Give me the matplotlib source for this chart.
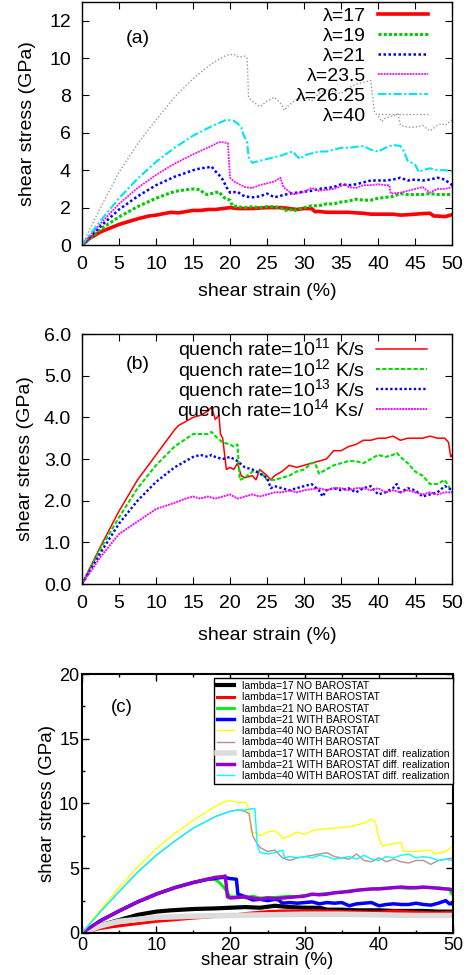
import numpy as np
import matplotlib
matplotlib.use("Agg")
import matplotlib.pyplot as plt
from matplotlib.ticker import MultipleLocator

plt.rcParams['font.family'] = ['Liberation Sans', 'DejaVu Sans']
plt.rcParams['mathtext.fontset'] = 'custom'
plt.rcParams['mathtext.rm'] = 'Liberation Sans'
plt.rcParams['mathtext.default'] = 'regular'

# ---- panel (a): (strain %, stress GPa) for each lambda ----
a_lam17 = [(0, 0), (1, 0.35), (2.5, 0.7), (5, 1.1), (7.5, 1.4), (9, 1.55), (10, 1.6), (12, 1.75), (13, 1.72),
           (15, 1.85), (16, 1.85), (17, 1.9), (18, 1.9), (19, 1.95), (20, 2.0), (21, 1.95), (22, 1.95), (23, 1.95),
           (25, 2.0), (26, 2.0), (27, 2.0), (28, 1.95), (29, 1.9), (30, 1.95), (31, 1.95), (31.5, 1.78), (32, 1.8),
           (33, 1.75), (34, 1.75), (35, 1.75), (36, 1.75), (37, 1.72), (38, 1.7), (39, 1.65), (40, 1.65), (41, 1.65),
           (42, 1.65), (43, 1.6), (44, 1.62), (45, 1.65), (46, 1.68), (47, 1.7), (47.5, 1.55), (48, 1.55),
           (49, 1.52), (50, 1.62)]
a_lam19 = [(0, 0), (2.5, 0.85), (5, 1.5), (7.5, 2.05), (10, 2.5), (12, 2.8), (13, 2.9), (14, 2.95), (15, 3.0),
           (16, 2.95), (16.5, 2.75), (17, 2.7), (18, 2.8), (18.5, 2.85), (19, 2.6), (19.5, 2.45), (20, 2.4),
           (20.3, 2.1), (21, 2.05), (22, 2.0), (23, 2.05), (24, 2.0), (25, 2.05), (26, 2.05), (27, 1.95),
           (27.5, 1.85), (28, 1.95), (28.5, 1.8), (29, 1.9), (30, 2.0), (31, 2.1), (32, 2.1), (33, 2.2), (34, 2.2),
           (35, 2.3), (36, 2.35), (37, 2.45), (38, 2.4), (39, 2.4), (40, 2.5), (41, 2.55), (42, 2.6), (43, 2.75),
           (44, 2.7), (45, 2.7), (46, 2.7), (47, 2.75), (48, 2.7), (49, 2.7), (50, 2.7)]
a_lam21 = [(0, 0), (2.5, 1.0), (5, 1.9), (7.5, 2.6), (10, 3.2), (12.5, 3.65), (15, 4.0), (16, 4.1), (17, 4.15),
           (17.5, 4.2), (18, 3.95), (18.5, 3.75), (19, 3.5), (19.5, 3.1), (20, 2.8), (21, 2.85), (21.5, 2.7),
           (22, 2.6), (23, 2.55), (24, 2.6), (25, 2.75), (26, 2.55), (27, 2.65), (28, 2.75), (29, 2.8), (30, 2.85),
           (31, 2.9), (32, 3.0), (33, 3.05), (34, 3.1), (35, 3.25), (36, 3.2), (37, 3.25), (38, 3.35), (39, 3.45),
           (40, 3.45), (41, 3.45), (42, 3.5), (43, 3.6), (44, 3.45), (45, 3.5), (46, 3.45), (47, 3.5), (48, 3.6),
           (49, 3.5), (49.5, 3.35), (50, 3.2)]
a_lam235 = [(0, 0), (2.5, 1.15), (5, 2.2), (7.5, 3.05), (10, 3.75), (12.5, 4.35), (15, 4.85), (17.5, 5.3),
            (18.5, 5.5), (19, 5.5), (19.7, 5.45), (20, 3.6), (20.5, 3.4), (21, 3.3), (22, 3.1), (23, 3.05),
            (24, 3.2), (25, 3.3), (26, 3.4), (26.8, 3.6), (27.2, 3.1), (28, 2.85), (28.5, 2.7), (29, 2.75),
            (30, 2.85), (31, 3.05), (32, 2.9), (33, 2.95), (34, 3.0), (35, 3.15), (35.5, 3.25), (36, 3.1),
            (37, 3.05), (38, 3.2), (39, 3.2), (40, 3.25), (41, 3.2), (41.5, 3.2), (41.7, 2.75), (43, 2.8),
            (44, 2.9), (45, 3.0), (46, 3.1), (47, 2.8), (48, 3.0), (49, 3.0), (50, 3.1)]
a_lam2625 = [(0, 0), (2.5, 1.3), (5, 2.5), (7.5, 3.55), (10, 4.45), (12.5, 5.2), (15, 5.85), (17.5, 6.35),
             (19.5, 6.7), (20.5, 6.65), (21, 6.5), (21.5, 6.3), (21.8, 5.9), (22.3, 5.5), (22.5, 4.7), (23, 4.4),
             (24, 4.5), (25, 4.6), (26, 4.7), (27, 4.8), (28, 4.95), (28.5, 5.0), (29, 4.75), (29.5, 4.6),
             (30, 4.8), (31, 4.9), (32, 5.0), (33, 5.0), (34, 5.1), (35, 5.2), (36, 5.2), (37, 5.25), (38, 5.3),
             (39, 5.1), (40, 5.0), (41, 5.2), (42, 5.35), (43, 5.3), (43.5, 5.0), (44, 4.5), (45, 4.3),
             (45.5, 3.9), (46, 4.0), (47, 4.1), (48, 4.0), (49, 4.0), (50, 3.95)]
a_lam40 = [(0, 0), (2.5, 2.0), (5, 3.9), (7.5, 5.4), (10, 6.7), (12.5, 7.9), (15, 8.9), (17.5, 9.7),
           (19.5, 10.15), (20.5, 10.2), (21.2, 10.05), (22, 10.1), (22.3, 10.0), (22.5, 7.9), (23, 7.7),
           (24, 7.4), (25, 7.7), (26, 7.9), (27, 7.5), (27.3, 7.2), (28, 7.5), (29, 7.8), (30, 7.9), (31, 7.7),
           (32, 8.1), (33, 8.3), (34, 8.2), (35, 8.1), (36, 8.4), (37, 8.6), (38, 8.7), (39, 8.8), (39.5, 7.1),
           (40, 6.9), (40.5, 6.6), (41, 6.8), (42, 6.9), (42.7, 7.0), (43, 6.4), (44, 6.3), (45, 6.3), (46, 6.4),
           (47, 6.1), (48, 6.4), (48.6, 6.5), (49, 6.4), (50, 6.7)]
a_labels = ['λ=17', 'λ=19', 'λ=21', 'λ=23.5', 'λ=26.25', 'λ=40']

# ---- panel (b): quench rates ----
b_q11 = [(0, 0), (2.5, 0.9), (5, 1.75), (7.5, 2.5), (10, 3.1), (12.5, 3.7), (13, 3.8), (15, 4.0), (16, 4.05),
         (17, 4.15), (17.5, 4.25), (18, 3.95), (18.5, 4.05), (18.7, 3.6), (19, 3.5), (19.5, 2.75), (20, 2.8),
         (20.5, 2.75), (21, 2.9), (21.5, 2.6), (22, 2.55), (23, 2.6), (23.5, 2.5), (24, 2.75), (25, 2.6),
         (25.5, 2.5), (26, 2.6), (27, 2.7), (28, 2.85), (29, 2.8), (30, 2.85), (31, 2.9), (32, 2.95), (33, 3.0),
         (34, 3.2), (35, 3.2), (36, 3.3), (37, 3.35), (38, 3.45), (39, 3.45), (40, 3.5), (41, 3.5), (42, 3.55),
         (43, 3.45), (44, 3.5), (45, 3.5), (46, 3.5), (47, 3.55), (48, 3.5), (49, 3.5), (49.5, 3.4),
         (49.8, 3.05), (50, 3.1)]
b_q12 = [(0, 0), (2.5, 0.85), (5, 1.6), (7.5, 2.3), (10, 2.85), (12.5, 3.3), (15, 3.6), (16, 3.6), (17, 3.6),
         (17.5, 3.65), (18, 3.55), (19, 3.4), (20, 3.35), (20.5, 3.3), (21, 3.35), (21.3, 2.5), (22, 2.55),
         (23, 2.7), (24, 2.7), (25, 2.5), (26, 2.5), (27, 2.55), (28, 2.6), (29, 2.7), (30, 2.75), (31, 2.9),
         (31.5, 2.9), (32, 2.65), (33, 2.75), (34, 2.85), (35, 2.9), (36, 2.95), (37, 2.95), (38, 2.9), (39, 3.0),
         (40, 3.1), (41, 3.05), (42, 3.1), (42.5, 3.15), (43, 3.05), (44, 2.9), (45, 2.7), (46, 2.6), (47, 2.4),
         (48, 2.4), (49, 2.5), (50, 2.2)]
b_q13 = [(0, 0), (2.5, 0.75), (5, 1.45), (7.5, 2.0), (10, 2.45), (12.5, 2.8), (15, 3.05), (16, 3.1), (17, 3.05),
         (17.5, 3.1), (18, 3.05), (19, 3.0), (20, 3.05), (21, 2.95), (22, 2.8), (23, 2.75), (24, 2.65), (25, 2.55),
         (25.5, 2.3), (26, 2.35), (27, 2.3), (28, 2.25), (29, 2.3), (30, 2.35), (31, 2.4), (32, 2.25), (32.5, 2.1),
         (33, 2.25), (34, 2.3), (35, 2.25), (36, 2.3), (37, 2.2), (38, 2.3), (39, 2.35), (40, 2.15), (41, 2.2),
         (42, 2.3), (42.5, 2.4), (43, 2.2), (44, 2.3), (45, 2.25), (46, 2.1), (47, 2.15), (48, 2.2), (49, 2.35),
         (50, 2.25)]
b_q14 = [(0, 0), (2.5, 0.65), (5, 1.2), (7.5, 1.5), (10, 1.8), (12.5, 1.95), (14, 2.05), (15, 2.1), (16, 2.05),
         (17, 2.1), (18, 2.05), (19, 2.1), (20, 2.15), (21, 2.05), (22, 2.1), (23, 2.15), (24, 2.1), (25, 2.15),
         (26, 2.2), (27, 2.2), (28, 2.25), (29, 2.2), (30, 2.25), (32, 2.3), (33, 2.25), (34, 2.3), (35, 2.3),
         (36, 2.25), (37, 2.3), (38, 2.3), (39, 2.25), (40, 2.3), (41, 2.2), (42, 2.25), (43, 2.2), (44, 2.25),
         (45, 2.2), (46, 2.15), (47, 2.2), (48, 2.15), (49, 2.2), (50, 2.2)]
b_labels = ['quench rate=10$^{11}$ K/s', 'quench rate=10$^{12}$ K/s',
            'quench rate=10$^{13}$ K/s', 'quench rate=10$^{14}$ Ks/']

# ---- panel (c): barostat comparison ----
c_l17_no = [(0, 0), (2.5, 0.6), (5, 1.0), (7.5, 1.4), (10, 1.65), (12, 1.75), (15, 1.85), (18, 1.9), (20, 1.95),
            (22, 2.0), (24, 1.95), (26, 2.1), (28, 2.0), (30, 1.95), (32, 1.95), (33, 1.8), (35, 1.8), (37, 1.75),
            (40, 1.75), (42, 1.7), (44, 1.7), (46, 1.7), (48, 1.65), (50, 1.65)]
c_l17_with = [(0, 0), (2.5, 0.35), (5, 0.55), (10, 0.9), (15, 1.15), (20, 1.35), (22, 1.5), (25, 1.65),
              (27, 1.7), (30, 1.7), (33, 1.7), (35, 1.65), (40, 1.6), (42, 1.7), (45, 1.6), (48, 1.55), (50, 1.6)]
c_l21_no = [(0, 0), (2.5, 0.95), (5, 1.7), (7.5, 2.4), (10, 3.0), (12.5, 3.5), (15, 3.9), (17, 4.15), (18, 4.1),
            (18.5, 3.9), (19, 3.6), (19.5, 3.2), (20, 2.8), (21, 2.8), (22, 2.7), (23, 2.85), (24, 2.7), (25, 2.75),
            (26, 2.75), (27, 2.8), (28, 2.85), (29, 2.8), (30, 2.9), (32, 3.0), (34, 3.1), (36, 3.25), (38, 3.35),
            (40, 3.45), (42, 3.5), (44, 3.45), (46, 3.5), (48, 3.5), (49.5, 3.4), (49.8, 3.0), (50, 3.1)]
c_l21_with = [(0, 0), (2.5, 0.95), (5, 1.7), (7.5, 2.4), (10, 3.0), (12.5, 3.5), (15, 3.9), (17, 4.15),
              (19, 4.3), (20, 4.2), (20.8, 4.15), (21, 3.0), (21.5, 2.9), (22, 2.8), (23, 2.55), (24, 2.6),
              (25, 2.5), (26, 2.6), (26.5, 2.55), (27, 2.3), (28, 2.35), (29, 2.3), (30, 2.35), (31, 2.4),
              (32, 2.25), (33, 2.35), (34, 2.3), (35, 2.35), (36, 2.1), (37, 2.25), (38, 2.3), (39, 2.35),
              (40, 2.1), (41, 2.2), (42, 2.25), (43, 2.2), (44, 2.2), (45, 2.3), (46, 2.2), (47, 2.15), (48, 2.3),
              (49, 2.5), (49.5, 2.25), (50, 2.25)]
c_l40_no = [(0, 0), (2.5, 1.8), (5, 3.5), (7.5, 5.1), (10, 6.5), (12.5, 7.7), (15, 8.7), (18, 9.8), (19.5, 10.2),
            (20, 10.2), (21, 10.1), (22, 10.1), (22.5, 9.6), (22.8, 7.8), (23.5, 7.7), (24, 7.5), (25, 7.8),
            (26, 7.9), (26.5, 7.7), (27, 7.3), (28, 7.5), (29, 7.8), (30, 7.6), (31, 7.9), (32, 8.0), (34, 8.1),
            (36, 8.2), (38, 8.5), (39, 8.8), (39.5, 8.6), (40, 7.3), (40.5, 6.7), (41, 6.8), (42, 6.9), (43, 7.0),
            (43.3, 6.3), (45, 6.3), (47, 6.4), (47.5, 6.1), (49, 6.3), (50, 6.7)]
c_l40_with = [(0, 0), (2.5, 1.65), (5, 3.2), (7.5, 4.7), (10, 6.0), (12.5, 7.1), (15, 8.1), (18, 9.0),
              (20, 9.4), (21, 9.5), (22, 9.4), (22.5, 9.2), (23, 7.5), (23.5, 7.0), (24, 6.6), (25, 6.3),
              (26, 6.4), (27, 5.8), (28, 5.6), (29, 5.8), (30, 5.9), (31, 6.0), (32, 6.1), (33, 6.2), (34, 5.9),
              (35, 5.8), (36, 5.7), (37, 6.1), (38, 5.6), (39, 5.5), (40, 5.8), (41, 5.5), (42, 5.7), (43, 5.5),
              (44, 5.4), (45, 5.6), (46, 5.6), (47, 5.3), (48, 5.6), (49, 5.7), (50, 5.8)]
c_l17_diff = [(0, 0), (2.5, 0.55), (5, 0.9), (10, 1.2), (15, 1.3), (20, 1.35), (25, 1.4), (30, 1.45),
              (35, 1.45), (40, 1.4), (45, 1.35), (50, 1.35)]
c_l21_diff = [(0, 0), (2.5, 0.95), (5, 1.7), (7.5, 2.4), (10, 3.0), (12.5, 3.5), (15, 3.9), (18, 4.3),
              (19, 4.35), (19.3, 4.4), (19.6, 2.8), (20, 2.7), (21, 2.75), (22, 2.8), (23, 2.7), (24, 2.6),
              (25, 2.7), (26, 2.65), (27, 2.7), (28, 2.75), (29, 2.8), (30, 2.85), (31, 3.0), (32, 2.95), (33, 3.0),
              (34, 3.1), (35, 3.15), (36, 3.2), (37, 3.3), (38, 3.35), (39, 3.4), (40, 3.4), (41, 3.45), (42, 3.5),
              (43, 3.55), (44, 3.5), (45, 3.5), (46, 3.55), (47, 3.5), (48, 3.45), (49, 3.4), (50, 3.35)]
c_l40_diff = [(0, 0), (2.5, 1.65), (5, 3.2), (7.5, 4.7), (10, 6.0), (12.5, 7.1), (15, 8.1), (18, 9.0),
              (20, 9.4), (21, 9.5), (22, 9.5), (23, 9.6), (23.3, 9.6), (23.6, 6.8), (24, 6.2), (25, 6.1), (26, 6.2),
              (27, 6.4), (27.3, 5.8), (28, 5.9), (29, 5.8), (30, 5.9), (31, 5.8), (32, 6.0), (33, 5.9), (34, 5.7),
              (35, 5.8), (36, 5.9), (37, 5.7), (38, 6.0), (39, 5.7), (40, 5.6), (41, 5.9), (42, 5.8), (43, 6.0),
              (44, 6.1), (45, 5.8), (46, 5.9), (47, 5.8), (48, 5.6), (49, 5.7), (50, 5.6)]
c_labels = ['lambda=17 NO BAROSTAT', 'lambda=17 WITH BAROSTAT', 'lambda=21 NO BAROSTAT',
            'lambda=21 WITH BAROSTAT', 'lambda=40 NO BAROSTAT', 'lambda=40 WITH BAROSTAT',
            'lambda=17 WITH BAROSTAT diff. realization', 'lambda=21 WITH BAROSTAT diff. realization',
            'lambda=40 WITH BAROSTAT diff. realization']


def xy(pairs):
    arr = np.array(pairs, dtype=float)
    return arr[:, 0], arr[:, 1]


fig = plt.figure(figsize=(4.74, 9.75), dpi=100)
ax_a = fig.add_axes([0.173, 0.7487, 0.781, 0.2493])
ax_b = fig.add_axes([0.173, 0.401, 0.781, 0.2564])
ax_c = fig.add_axes([0.173, 0.0431, 0.783, 0.2656])

# panel (a)
a_curves = [a_lam17, a_lam19, a_lam21, a_lam235, a_lam2625, a_lam40]
a_styles = [dict(color='#ff0000', lw=2.6, ls='-'),
            dict(color='#00cc00', lw=2.2, ls=(0, (1, 0.7))),
            dict(color='#0000ff', lw=1.8, ls=(0, (1, 1))),
            dict(color='#ff00ff', lw=1.3, ls=(0, (1, 0.6))),
            dict(color='#00e5ee', lw=1.5, ls=(0, (4, 1.2, 1, 1.2))),
            dict(color='#999999', lw=1.0, ls=(0, (1, 1.5)))]
for pts, st, lab in zip(a_curves, a_styles, a_labels):
    x, y = xy(pts)
    ax_a.plot(x, y, label=lab, **st)
ax_a.set_xlim(0, 50)
ax_a.set_ylim(0, 13)
ax_a.set_xticks(np.arange(0, 51, 5))
ax_a.set_yticks(np.arange(0, 13, 2))
ax_a.legend(loc='upper right', bbox_to_anchor=(0.935, 0.977), frameon=False, markerfirst=False,
            fontsize=14, handlelength=2.6, handletextpad=0.6, labelspacing=0.12, borderpad=0,
            borderaxespad=0)
ax_a.text(0.15, 0.85, '(a)', transform=ax_a.transAxes, fontsize=14, ha='center', va='center')

# panel (b)
b_curves = [b_q11, b_q12, b_q13, b_q14]
b_styles = [dict(color='#ff0000', lw=1.1, ls='-'),
            dict(color='#00dd00', lw=1.5, ls=(0, (2, 1))),
            dict(color='#0000ff', lw=1.7, ls=(0, (1, 1))),
            dict(color='#ff00ff', lw=1.4, ls=(0, (1, 0.5)))]
for pts, st, lab in zip(b_curves, b_styles, b_labels):
    x, y = xy(pts)
    ax_b.plot(x, y, label=lab, **st)
ax_b.set_xlim(0, 50)
ax_b.set_ylim(0, 6)
ax_b.set_xticks(np.arange(0, 51, 5))
ax_b.set_yticks(np.arange(0, 6.1, 1))
ax_b.set_yticklabels(['%.1f' % v for v in np.arange(0, 6.1, 1)])
ax_b.legend(loc='upper right', bbox_to_anchor=(0.932, 0.99), frameon=False, markerfirst=False,
            fontsize=14, handlelength=2.6, handletextpad=0.6, labelspacing=-0.3, borderpad=0,
            borderaxespad=0)
ax_b.text(0.15, 0.88, '(b)', transform=ax_b.transAxes, fontsize=14, ha='center', va='center')

for ax in (ax_a, ax_b):
    ax.tick_params(direction='in', length=5, width=0.8, top=True, right=True, labelsize=14, pad=8)
    ax.set_xlabel('shear strain (%)', fontsize=14)
    ax.set_ylabel('shear stress (GPa)', fontsize=14)
    for sp in ax.spines.values():
        sp.set_linewidth(1.0)
ax_a.xaxis.set_label_coords(0.5, -0.155)
ax_a.yaxis.set_label_coords(-0.125, 0.5)
ax_b.xaxis.set_label_coords(0.5, -0.17)
ax_b.yaxis.set_label_coords(-0.13, 0.5)

# panel (c)
c_curves = [c_l17_no, c_l17_with, c_l21_no, c_l21_with, c_l40_no, c_l40_with, c_l17_diff, c_l21_diff, c_l40_diff]
c_styles = [dict(color='#000000', lw=3.0),
            dict(color='#ff0000', lw=2.2),
            dict(color='#00ee00', lw=2.0),
            dict(color='#0000ff', lw=2.5),
            dict(color='#ffff00', lw=1.0),
            dict(color='#bc8f8f', lw=1.0),
            dict(color='#dcdcdc', lw=4.0),
            dict(color='#9400d3', lw=2.5),
            dict(color='#00ffff', lw=1.0)]
for pts, st, lab in zip(c_curves, c_styles, c_labels):
    x, y = xy(pts)
    ax_c.plot(x, y, label=lab, **st)
ax_c.set_xlim(0, 50)
ax_c.set_ylim(0, 20)
ax_c.xaxis.set_major_locator(MultipleLocator(10))
ax_c.xaxis.set_minor_locator(MultipleLocator(5))
ax_c.yaxis.set_major_locator(MultipleLocator(5))
ax_c.yaxis.set_minor_locator(MultipleLocator(2.5))
ax_c.tick_params(which='both', direction='in', top=True, right=True, labelsize=13)
ax_c.tick_params(which='major', length=5, width=1.0)
ax_c.tick_params(which='minor', length=2.5, width=1.0)
ax_c.tick_params(axis='x', pad=3)
ax_c.tick_params(axis='y', pad=2)
for sp in ax_c.spines.values():
    sp.set_linewidth(1.5)
leg = ax_c.legend(loc='upper right', bbox_to_anchor=(1.0, 0.985), fontsize=7.5, frameon=True, fancybox=False,
                  edgecolor='black', framealpha=1, handlelength=1.6, handletextpad=0.8, labelspacing=0.12,
                  borderpad=0.3, borderaxespad=0)
leg.get_frame().set_linewidth(1.0)
ax_c.text(0.108, 0.87, '(c)', transform=ax_c.transAxes, fontsize=13.5, ha='center', va='center')
ax_c.set_xlabel('shear strain (%)', fontsize=13.5)
ax_c.set_ylabel('shear stress (GPa)', fontsize=13.5)
ax_c.xaxis.set_label_coords(0.5, -0.075)
ax_c.yaxis.set_label_coords(-0.07, 0.5)

fig.savefig('out.png', dpi=100)
